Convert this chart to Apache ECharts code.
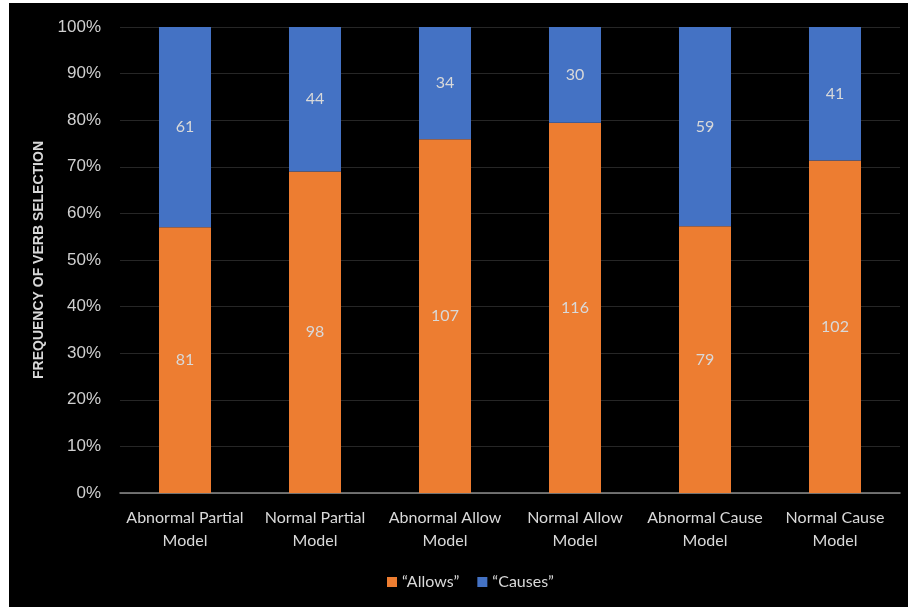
<!DOCTYPE html>
<html>
<head>
<meta charset="utf-8">
<style>
html,body{margin:0;padding:0;background:#fff;}
#chart{width:908px;height:607px;}
</style>
<script src="https://cdn.jsdelivr.net/npm/echarts@6/dist/echarts.min.js"></script>
</head>
<body>
<div id="chart"></div>
<script>
const categories = ["Abnormal Partial\nModel", "Normal Partial\nModel", "Abnormal Allow\nModel", "Normal Allow\nModel", "Abnormal Cause\nModel", "Normal Cause\nModel"];
const allowsCounts = [81, 98, 107, 116, 79, 102];
const causesCounts = [61, 44, 34, 30, 59, 41];
const yTicks = [0, 10, 20, 30, 40, 50, 60, 70, 80, 90, 100];

const totals = allowsCounts.map((a, i) => a + causesCounts[i]);
const allowsPct = allowsCounts.map((a, i) => a / totals[i] * 100);
const causesPct = causesCounts.map((c, i) => c / totals[i] * 100);

const chart = echarts.init(document.getElementById('chart'), null, {renderer: 'canvas'});
const labelStyle = {
  show: true, position: 'inside', color: '#d9d9d9', fontSize: 16,
  fontFamily: 'Lato, "Open Sans", sans-serif'
};
chart.setOption({
  backgroundColor: '#ffffff',
  animation: false,
  graphic: [{
    type: 'rect', z: -10, silent: true,
    shape: {x: 9, y: 3, width: 899, height: 604},
    style: {fill: '#000000'}
  }],
  grid: {left: 120, right: 8, top: 27, bottom: 114, containLabel: false},
  legend: {
    data: ['\u201cAllows\u201d', '\u201cCauses\u201d'],
    left: 382, top: 569,
    itemWidth: 10, itemHeight: 10, itemGap: 18,
    icon: 'rect',
    textStyle: {color: '#d9d9d9', fontSize: 16, fontFamily: 'Lato, "Open Sans", sans-serif'}
  },
  xAxis: {
    type: 'category',
    data: categories,
    axisLine: {show: true, lineStyle: {color: '#8c8c8c', width: 1.5}},
    axisTick: {show: false},
    axisLabel: {
      color: '#d9d9d9', fontSize: 16, lineHeight: 23, margin: 13,
      fontFamily: 'Lato, "Open Sans", sans-serif', interval: 0
    }
  },
  yAxis: {
    type: 'value',
    min: 0, max: 100, interval: 10,
    name: 'FREQUENCY OF VERB SELECTION',
    nameLocation: 'middle', nameGap: 72,
    nameTextStyle: {color: '#d9d9d9', fontSize: 14, fontWeight: 'bold', fontFamily: '"Liberation Sans", Arial, sans-serif'},
    axisLine: {show: false},
    axisTick: {show: false},
    splitLine: {lineStyle: {color: '#262626', width: 1}},
    axisLabel: {
      color: '#d0d0d0', fontSize: 17, margin: 19,
      fontFamily: '"Liberation Sans", Arial, sans-serif',
      formatter: v => (yTicks.includes(v) ? v + '%' : '')
    }
  },
  series: [
    {
      name: '\u201cAllows\u201d', type: 'bar', stack: 'total',
      data: allowsPct, barWidth: '40%',
      itemStyle: {color: '#ED7D31'},
      label: Object.assign({}, labelStyle, {formatter: p => allowsCounts[p.dataIndex]})
    },
    {
      name: '\u201cCauses\u201d', type: 'bar', stack: 'total',
      data: causesPct, barWidth: '40%',
      itemStyle: {color: '#4472C4'},
      label: Object.assign({}, labelStyle, {formatter: p => causesCounts[p.dataIndex]})
    }
  ]
});
</script>
</body>
</html>
